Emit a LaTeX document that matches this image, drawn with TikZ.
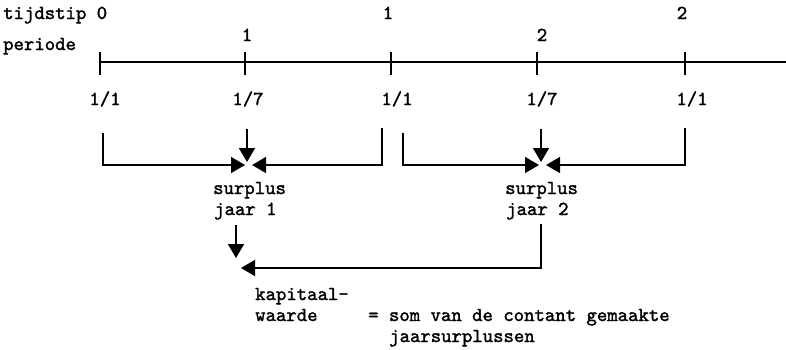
\documentclass[tikz,border=0pt]{standalone}
\usepackage{fontspec}
\newfontfamily\twfont{lmmono10-regular.otf}[FakeBold=1.6]
\usetikzlibrary{arrows.meta}
\begin{document}
\begin{tikzpicture}[x=1pt,y=-1pt,
  txt/.style={font=\fontsize{19.8}{21}\selectfont\twfont, inner sep=0pt, anchor=base},
  ltxt/.style={txt, anchor=base west},
  ln/.style={line width=1.6pt, line cap=butt},
  tickln/.style={line width=2.6pt},
  arr/.style={ln, -{Triangle[length=14pt,width=16pt]}}]
\useasboundingbox (0,0) rectangle (786,349);

% headings
\node[ltxt] (tijd) at (3,19) {tijdstip 0};
\node[txt] (t1) at (388,19) {1};
\node[txt] (t2) at (682,19) {2};
\node[ltxt] (per) at (3,50) {periode};
\node[txt] (p1) at (247,41) {1};
\node[txt] (p2) at (542,41) {2};

% timeline
\coordinate (L0) at (100,62);
\coordinate (Lend) at (786,62);
\draw[ln] (L0) -- (Lend);
\foreach \x/\n in {100/k0,245/k1,391/k2,537/k3,685/k4}{
  \coordinate (\n) at (\x,62);
  \draw[tickln] (\n) ++(0,-10) -- ++(0,23);
}

% dates
\node[txt] (d0) at (105,105) {1/1};
\node[txt] (d1) at (248,105) {1/7};
\node[txt] (d2) at (397,105) {1/1};
\node[txt] (d3) at (542,105) {1/7};
\node[txt] (d4) at (692,105) {1/1};

% bracket 1
\coordinate (b1l) at (103,133);
\coordinate (b1r) at (382,128);
\coordinate (b1d) at (247,129);
\coordinate (x1l) at (245,165);
\coordinate (x1r) at (252,165);
\coordinate (x1d) at (247,162);
\draw[arr] (b1l) |- (x1l);
\draw[arr] (b1r) |- (x1r);
\draw[arr] (b1d) -- (x1d);

% bracket 2
\coordinate (b2l) at (403,133);
\coordinate (b2r) at (685,128);
\coordinate (b2d) at (541,129);
\coordinate (x2l) at (539,165);
\coordinate (x2r) at (546,165);
\coordinate (x2d) at (541,162);
\draw[arr] (b2l) |- (x2l);
\draw[arr] (b2r) |- (x2r);
\draw[arr] (b2d) -- (x2d);

% surplus labels
\node[ltxt] (s1) at (213,194) {surplus};
\node[ltxt] (j1) at (214,215) {jaar 1};
\node[ltxt] (s2) at (505,194) {surplus};
\node[ltxt] (j2) at (506,215) {jaar 2};

% capital value arrows
\coordinate (c1t) at (236,225);
\coordinate (c1b) at (236,258);
\coordinate (c2t) at (541,224);
\coordinate (c2e) at (241,268);
\draw[arr] (c1t) -- (c1b);
\draw[arr] (c2t) |- (c2e);

% bottom text
\node[ltxt] (kap) at (255,300) {kapitaal-};
\node[ltxt] (waa) at (255,321) {waarde};
\node[ltxt] (som) at (368,321) {= som van de contant gemaakte};
\node[ltxt] (jsp) at (389,342) {jaarsurplussen};
\end{tikzpicture}
\end{document}
